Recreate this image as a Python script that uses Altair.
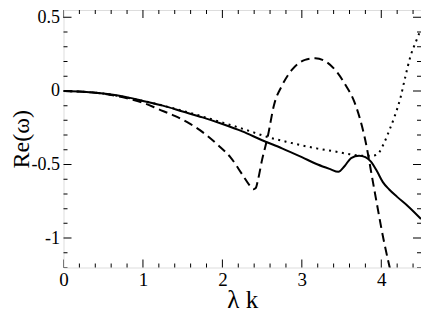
import altair as alt
import pandas as pd

# ---- data ----
solid_k = [0, 0.25, 0.5, 0.75, 1.0, 1.25, 1.5, 1.75, 2.0, 2.25, 2.5, 2.75, 3.0, 3.2, 3.35, 3.46,
           3.54, 3.62, 3.72, 3.8, 3.87, 3.95, 4.02, 4.1, 4.2, 4.35, 4.5]
solid_v = [0, -0.005, -0.018, -0.037, -0.068, -0.1, -0.14, -0.18, -0.225, -0.275, -0.335, -0.39,
           -0.45, -0.5, -0.53, -0.55, -0.51, -0.456, -0.44, -0.45, -0.48, -0.55, -0.62, -0.67,
           -0.72, -0.79, -0.87]

dashed_k = [0, 0.4, 0.8, 1.0, 1.2, 1.4, 1.6, 1.8, 1.95, 2.1, 2.26, 2.34, 2.39, 2.42, 2.45, 2.5,
            2.57, 2.65, 2.75, 2.88, 3.04, 3.17, 3.3, 3.45, 3.55, 3.66, 3.79, 3.91, 4.03, 4.15]
dashed_v = [0, -0.012, -0.05, -0.08, -0.125, -0.17, -0.226, -0.3, -0.37, -0.45, -0.576, -0.64,
            -0.668, -0.66, -0.6, -0.467, -0.313, -0.095, 0.036, 0.146, 0.211, 0.222, 0.2, 0.123,
            0.04, -0.073, -0.313, -0.664, -1.013, -1.3]

dotted_k = [0, 0.5, 1.0, 1.5, 2.0, 2.3, 2.55, 2.8, 3.0, 3.2, 3.4, 3.6, 3.75, 3.9, 3.97, 4.03,
            4.1, 4.17, 4.24, 4.3, 4.37, 4.44, 4.5]
dotted_v = [0, -0.018, -0.068, -0.135, -0.215, -0.265, -0.31, -0.345, -0.37, -0.392, -0.41,
            -0.43, -0.44, -0.44, -0.42, -0.36, -0.27, -0.17, -0.05, 0.09, 0.24, 0.34, 0.42]

x_major = [0, 1, 2, 3, 4]
x_minor = [0.2, 0.4, 0.6, 0.8, 1.2, 1.4, 1.6, 1.8, 2.2, 2.4, 2.6, 2.8, 3.2, 3.4,
           3.6, 3.8, 4.2, 4.4]
y_major = [-1, -0.5, 0, 0.5]
y_minor = [-1.2, -1.1, -0.9, -0.8, -0.7, -0.6, -0.4, -0.3, -0.2, -0.1, 0.1, 0.2,
           0.3, 0.4]

x_title = "λ k"
y_title = "Re(ω)"

X_DOMAIN = [0, 4.5]
Y_DOMAIN = [-1.2, 0.55]

df_solid = pd.DataFrame({"k": solid_k, "v": solid_v})
df_dashed = pd.DataFrame({"k": dashed_k, "v": dashed_v})
df_dotted = pd.DataFrame({"k": dotted_k, "v": dotted_v})

xscale = alt.Scale(domain=X_DOMAIN, nice=False, zero=False)
yscale = alt.Scale(domain=Y_DOMAIN, nice=False, zero=False)

FONT = "'Liberation Serif', 'Times New Roman', Times, 'DejaVu Serif', serif"

x_axis = alt.Axis(values=x_major, grid=False, domain=False, ticks=False, labelFlush=False,
                  labelOverlap=False, labelBound=False, labelFont=FONT, labelFontSize=19,
                  labelColor="black", labelPadding=3, title=x_title, titleFont=FONT,
                  titleFontSize=25, titleFontWeight="normal", titleColor="black",
                  titlePadding=-2)
y_axis = alt.Axis(values=y_major, grid=False, domain=False, ticks=False, labelFlush=False,
                  labelOverlap=False, labelBound=False, labelFont=FONT, labelFontSize=18,
                  labelColor="black", labelPadding=4, title=y_title, titleFont=FONT,
                  titleFontSize=24, titleFontWeight="normal", titleColor="black",
                  titleBaseline="middle", titleX=-42,
                  labelExpr="'' + datum.value")


def curve(df, **mark):
    return alt.Chart(df).mark_line(color="black", strokeWidth=2, interpolate="monotone",
                                   clip=True, **mark).encode(
        x=alt.X("k:Q", scale=xscale, axis=x_axis),
        y=alt.Y("v:Q", scale=yscale, axis=y_axis),
    )


solid = curve(df_solid)
dashed = curve(df_dashed, strokeDash=[9, 5])
dotted = curve(df_dotted, strokeDash=[2, 4.5])


def xticks(values, edge, length):
    df = pd.DataFrame({"k": values})
    return alt.Chart(df).mark_tick(color="black", thickness=1, size=2 * length,
                                   orient="vertical", clip=True, opacity=1).encode(
        x=alt.X("k:Q", scale=xscale, axis=x_axis),
        y=alt.YDatum(edge, type="quantitative", scale=yscale, axis=y_axis),
    )


def yticks(values, edge, length):
    df = pd.DataFrame({"v": values})
    return alt.Chart(df).mark_tick(color="black", thickness=1, size=2 * length,
                                   orient="horizontal", clip=True, opacity=1).encode(
        y=alt.Y("v:Q", scale=yscale, axis=y_axis),
        x=alt.XDatum(edge, type="quantitative", scale=xscale, axis=x_axis),
    )


tick_layers = [
    xticks(x_major, Y_DOMAIN[0], 8), xticks(x_minor, Y_DOMAIN[0], 4),
    xticks(x_major, Y_DOMAIN[1], 8), xticks(x_minor, Y_DOMAIN[1], 4),
    yticks(y_major, X_DOMAIN[0], 8), yticks(y_minor, X_DOMAIN[0], 4),
    yticks(y_major, X_DOMAIN[1], 8), yticks(y_minor, X_DOMAIN[1], 4),
]

chart = alt.layer(solid, dashed, dotted, *tick_layers).properties(
    width=357.5, height=257.5,
    autosize=alt.AutoSizeParams(type="none"),
    padding={"left": 55.5, "top": 2, "right": 0, "bottom": 45},
).configure_view(stroke="black", strokeWidth=1.2).configure(font=FONT)

chart.save("out.html", embed_options={"renderer": "svg", "actions": False})
